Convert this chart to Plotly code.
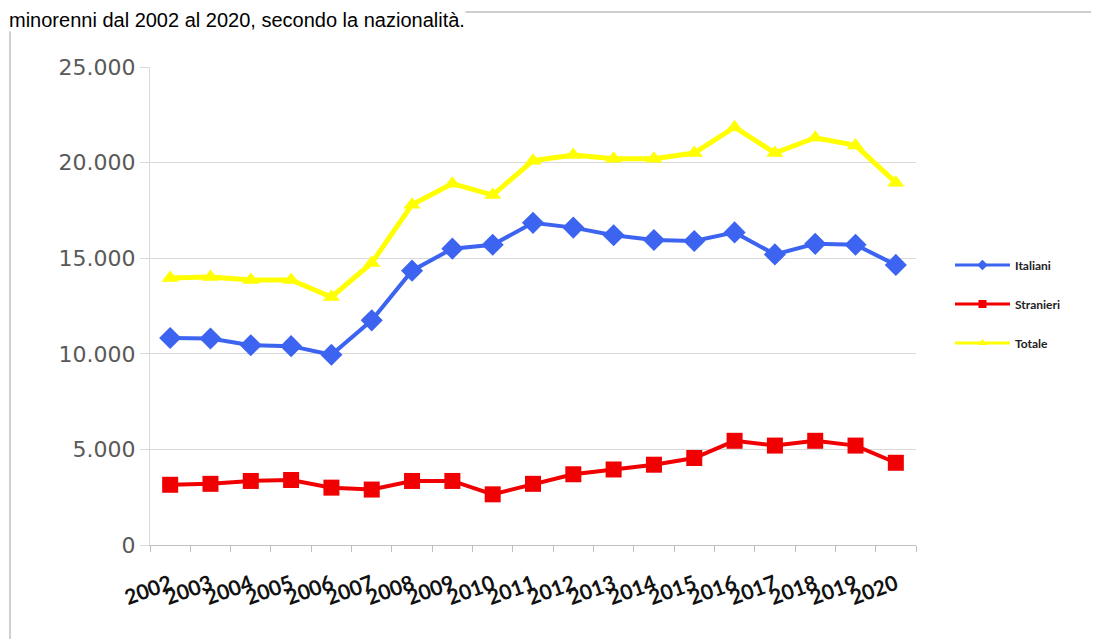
import plotly.graph_objects as go

years = ["2002", "2003", "2004", "2005", "2006", "2007", "2008", "2009", "2010", "2011",
         "2012", "2013", "2014", "2015", "2016", "2017", "2018", "2019", "2020"]
italiani = [10830, 10800, 10450, 10400, 9950, 11750, 14350, 15500, 15700, 16850,
            16600, 16200, 15950, 15900, 16350, 15200, 15750, 15700, 14650]
stranieri = [3150, 3200, 3350, 3400, 3000, 2900, 3350, 3350, 2650, 3200,
             3700, 3950, 4200, 4550, 5450, 5200, 5450, 5200, 4300]
totale = [13970, 14020, 13860, 13860, 12970, 14750, 17800, 18900, 18300, 20100,
          20400, 20200, 20200, 20500, 21850, 20500, 21300, 20900, 18950]
y_ticks = [0, 5000, 10000, 15000, 20000, 25000]

OFF = 8  # page body margin
W, H = 1099 - OFF, 639 - OFF
L, T = 150 - OFF, 67 - OFF
pw, ph = 766, 478
R, B = W - L - pw, H - T - ph

def px(sx):
    return (sx - OFF - L) / pw

def py(sy):
    return (T + ph - (sy - OFF)) / ph

series = [
    ("Italiani", italiani, "#3c64f0", "diamond", 17, 4),
    ("Stranieri", stranieri, "#f00000", "square", 16, 4),
    ("Totale", totale, "#ffff00", "triangle-up", 15, 5),
]

fig = go.Figure()
for name, vals, col, sym, ms, lw in series:
    fig.add_trace(go.Scatter(x=years, y=vals, name=name, mode="lines+markers",
                             showlegend=False,
                             line=dict(color=col, width=lw),
                             marker=dict(symbol=sym, size=ms, color=col)))
for i, (name, vals, col, sym, ms, lw) in enumerate(series):
    fig.add_trace(go.Scatter(x=[None], y=[None], name=name, mode="lines+markers",
                             legendgroup=str(i),
                             line=dict(color=col, width=3),
                             marker=dict(symbol=sym, size=8, color=col)))

fig.update_layout(
    width=W, height=H,
    margin=dict(l=L, r=R, t=T, b=B),
    paper_bgcolor="white", plot_bgcolor="white",
    separators=",.",
    showlegend=True,
    legend=dict(x=px(950), xanchor="left", y=py(304), yanchor="middle",
                font=dict(family="Lato", size=12, color="#222222", weight="bold"),
                tracegroupgap=20, itemwidth=55, bgcolor="rgba(0,0,0,0)"),
    xaxis=dict(type="category", tickmode="array", tickvals=years, ticktext=years,
               tickson="boundaries", ticks="outside", ticklen=6, tickcolor="#bfbfbf",
               showline=True, linecolor="#bfbfbf", linewidth=1,
               showgrid=False, tickangle=-20, ticklabelstandoff=18,
               tickfont=dict(family="Lato", size=21, color="#111111", weight="bold"),
               range=[-0.5, 18.5]),
    yaxis=dict(range=[0, 25000], tickmode="array", tickvals=y_ticks,
               tickformat=",d", showgrid=True, gridcolor="#d9d9d9", gridwidth=1,
               ticks="outside", ticklen=9, tickcolor="#d9d9d9",
               showline=True, linecolor="#d9d9d9", zeroline=False,
               tickfont=dict(family="DejaVu Sans", size=22, color="#595959")),
    shapes=[dict(type="rect", xref="paper", yref="paper",
                 x0=px(10), x1=px(1120), y0=py(660), y1=py(12),
                 line=dict(color="#cfcfcf", width=2), layer="below")],
    annotations=[dict(text="minorenni dal 2002 al 2020, secondo la nazionalità.",
                      xref="paper", yref="paper", x=px(OFF), y=py(OFF),
                      xanchor="left", yanchor="top", showarrow=False,
                      bgcolor="white", borderpad=0,
                      font=dict(family="Liberation Sans", size=20, color="#000000"))],
)

fig.write_html("out.html")
